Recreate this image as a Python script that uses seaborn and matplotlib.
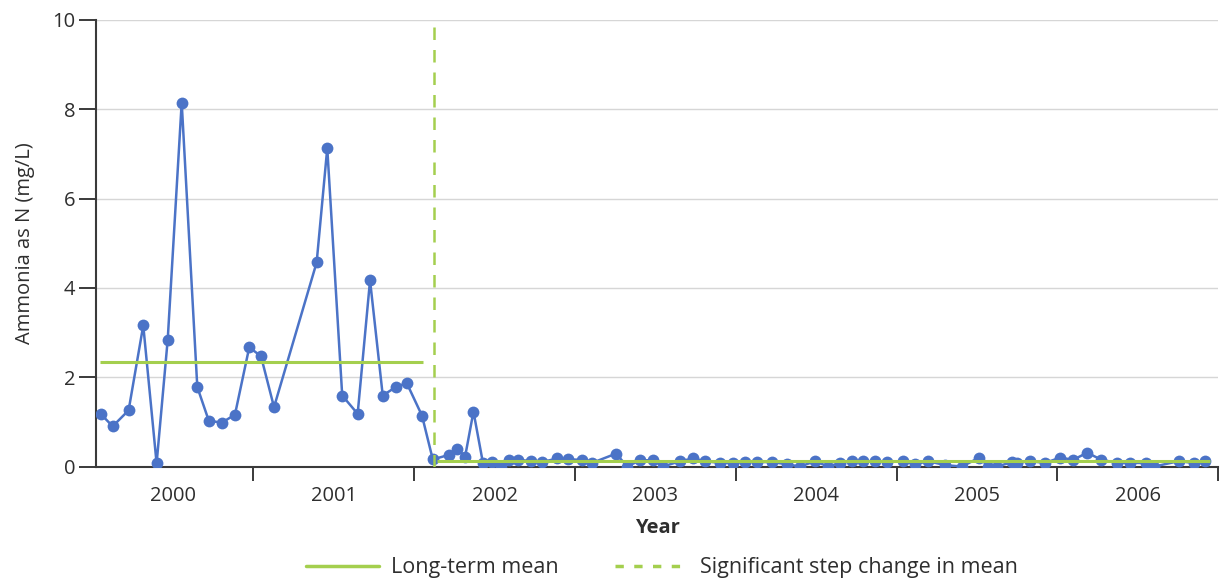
import numpy as np
import pandas as pd
import matplotlib
matplotlib.use("Agg")
import matplotlib.pyplot as plt
import seaborn as sns
from matplotlib.lines import Line2D
from matplotlib.ticker import FixedLocator, NullFormatter

# Sampling dates (decimal years) and ammonia concentrations (mg/L as N)
dates_before = [2000.051, 2000.126, 2000.225, 2000.316, 2000.399, 2000.468,
                2000.555, 2000.652, 2000.723, 2000.803, 2000.886, 2000.975,
                2001.048, 2001.129, 2001.394, 2001.460, 2001.553, 2001.649,
                2001.726, 2001.805, 2001.886, 2001.954, 2002.049]
ammonia_before = [1.18, 0.90, 1.26, 3.16, 0.07, 2.84,
                  8.15, 1.78, 1.03, 0.98, 1.16, 2.67,
                  2.47, 1.33, 4.57, 7.13, 1.59, 1.18,
                  4.17, 1.59, 1.78, 1.87, 1.14]

dates_after = [2002.116, 2002.217, 2002.267, 2002.317, 2002.369, 2002.428,
               2002.484, 2002.540, 2002.590, 2002.646, 2002.727, 2002.795,
               2002.889, 2002.957, 2003.044, 2003.106, 2003.256, 2003.324,
               2003.405, 2003.486, 2003.548, 2003.654, 2003.734, 2003.809,
               2003.902, 2003.983, 2004.058, 2004.132, 2004.226, 2004.319,
               2004.400, 2004.493, 2004.574, 2004.649, 2004.723, 2004.792,
               2004.866, 2004.941, 2005.040, 2005.115, 2005.196, 2005.302,
               2005.407, 2005.514, 2005.570, 2005.625, 2005.718, 2005.750,
               2005.830, 2005.923, 2006.017, 2006.098, 2006.185, 2006.273,
               2006.372, 2006.453, 2006.553, 2006.602, 2006.754, 2006.846,
               2006.920]
ammonia_after = [0.16, 0.26, 0.40, 0.22, 1.23, 0.08,
                 0.10, 0.00, 0.14, 0.14, 0.13, 0.10,
                 0.18, 0.16, 0.15, 0.08, 0.29, 0.00,
                 0.14, 0.14, 0.00, 0.12, 0.18, 0.12,
                 0.08, 0.08, 0.10, 0.10, 0.10, 0.05,
                 0.00, 0.12, 0.00, 0.08, 0.12, 0.12,
                 0.12, 0.10, 0.12, 0.05, 0.12, 0.03,
                 0.00, 0.20, 0.00, 0.00, 0.10, 0.08,
                 0.12, 0.08, 0.20, 0.15, 0.31, 0.15,
                 0.08, 0.08, 0.08, 0.00, 0.12, 0.08,
                 0.12]

# Extent of each period over which the long-term mean is drawn
period_before = (2000.05, 2002.055)
period_after = (2002.14, 2006.95)
step_change_date = 2002.125

year_labels = ["2000", "2001", "2002", "2003", "2004", "2005", "2006"]
year_starts = [2000, 2001, 2002, 2003, 2004, 2005, 2006, 2007]

BLUE = "#4b73c7"
GREEN = "#a4cf4e"
AXIS = "#3a3a3a"
TEXT = "#2e2e2e"

sns.set_theme(style="white")
plt.rcParams["font.family"] = ["Open Sans", "DejaVu Sans"]

df = pd.DataFrame({
    "date": dates_before + dates_after,
    "ammonia": ammonia_before + ammonia_after,
})

fig = plt.figure(figsize=(12.21, 5.83), dpi=100)
ax = fig.add_axes([0.0786, 0.1998, 0.9192, 0.7659])

sns.lineplot(data=df, x="date", y="ammonia", ax=ax, color=BLUE,
             linewidth=1.8, marker="o", markersize=8.5,
             markeredgewidth=0, zorder=3)

# Long-term means before and after the step change
mean_before = float(np.mean(ammonia_before))
mean_after = float(np.mean(ammonia_after))
ax.hlines(mean_before, *period_before, color=GREEN, linewidth=2.2, zorder=4)
ax.hlines(mean_after, *period_after, color=GREEN, linewidth=2.2, zorder=4)
ax.axvline(step_change_date, color=GREEN, linewidth=1.8,
           linestyle=(0, (5, 4)), zorder=4)

ax.set_xlim(2000.022, 2007.0)
ax.set_ylim(0, 10)

# Year boundaries carry the ticks, labels sit mid-year
ax.xaxis.set_major_locator(FixedLocator(year_starts[1:]))
ax.xaxis.set_major_formatter(NullFormatter())
ax.xaxis.set_minor_locator(FixedLocator([y + 0.5 for y in year_starts[:-1]]))
ax.set_xticklabels(year_labels, minor=True)
ax.tick_params(axis="x", which="major", direction="out", length=10,
               width=1.4, color=AXIS, bottom=True)
ax.tick_params(axis="x", which="minor", length=0, pad=14,
               labelsize=14.5, labelcolor=TEXT)

ax.set_yticks([0, 2, 4, 6, 8, 10])
ax.tick_params(axis="y", which="major", direction="out", length=12,
               width=1.4, color=AXIS, left=True, pad=3,
               labelsize=14.5, labelcolor=TEXT)

ax.grid(axis="y", color="#d6d6d6", linewidth=1.0, zorder=0)
ax.set_axisbelow(True)

for side in ("top", "right"):
    ax.spines[side].set_visible(False)
for side in ("left", "bottom"):
    ax.spines[side].set_color(AXIS)
    ax.spines[side].set_linewidth(1.5)

ax.set_xlabel("Year", fontsize=14.5, fontweight="bold", color=TEXT, labelpad=9)
ax.set_ylabel("Ammonia as N (mg/L)", fontsize=14.5, color=TEXT, labelpad=12)

handles = [
    Line2D([], [], color=GREEN, linewidth=2.5),
    Line2D([], [], color=GREEN, linewidth=2.5, linestyle=(0, (2.4, 3.0))),
]
fig.legend(handles, ["Long-term mean", "Significant step change in mean"],
           loc="center", bbox_to_anchor=(0.542, 0.026), ncol=2,
           frameon=False, fontsize=15.5, handlelength=3.4, handletextpad=0.55,
           columnspacing=2.6, labelcolor=TEXT)

fig.savefig("out.png", dpi=100)
